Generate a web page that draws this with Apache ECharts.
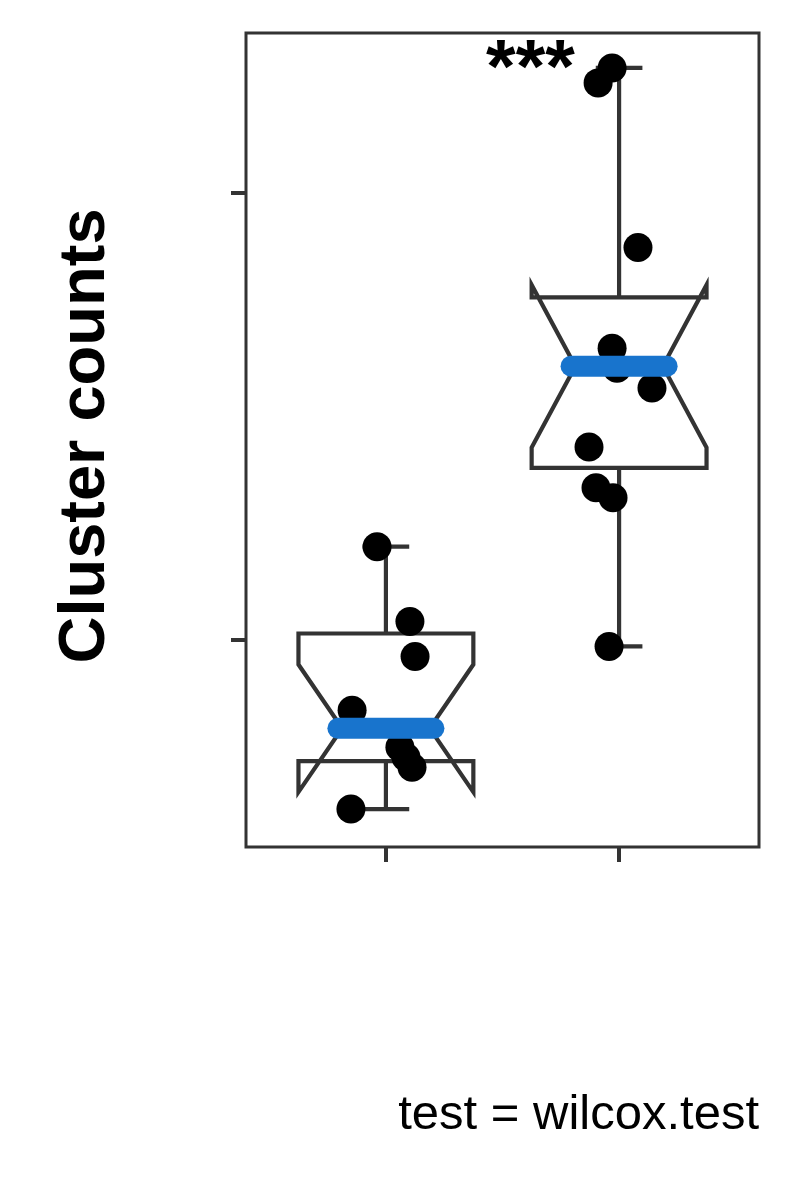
<!DOCTYPE html>
<html>
<head>
<meta charset="utf-8">
<script src="https://cdn.jsdelivr.net/npm/echarts@6/dist/echarts.min.js"></script>
<style>
  html, body { margin: 0; padding: 0; background: #ffffff; }
  #chart { width: 800px; height: 1200px; }
</style>
</head>
<body>
<div id="chart"></div>
<script>
// ---- data ----
const categories = ['Group 1', 'Group 2'];
const groupPos = [1, 2];
// box statistics: [min, Q1, median, Q3, max]
const boxStats = [
  [6.205, 7.277, 8.013, 10.134, 12.076],
  [9.844, 13.839, 16.116, 17.656, 22.790]
];
const groupCounts = [10, 11];
// jittered points
const g1X = [0.962, 1.103, 1.125, 0.855, 1.060, 1.086, 1.112, 0.850];
const g1Y = [12.076, 10.402, 9.621, 8.415, 7.589, 7.366, 7.143, 6.205];
const g2X = [1.970, 1.910, 2.081, 1.970, 1.991, 2.141, 1.871, 1.901, 1.974, 1.957];
const g2Y = [22.790, 22.455, 18.772, 16.518, 16.071, 15.625, 14.308, 13.393, 13.170, 9.844];
const yTicks = [10, 20];
const yRange = [5.357, 23.571];
const xRange = [0.4, 2.6];
const signifLabel = '***';
const signifPos = [1.62, 22.72];
const yTitle = 'Cluster counts';
const caption = 'test = wilcox.test';

const FONT = "'Liberation Sans', Arial, Helvetica, sans-serif";
const LINE = '#333333';

const boxData = categories.map((c, i) => [groupPos[i]].concat(boxStats[i]).concat([groupCounts[i]]));
const pts = [];
g1X.forEach((x, i) => pts.push([x, g1Y[i]]));
g2X.forEach((x, i) => pts.push([x, g2Y[i]]));

const HALF = 0.375, NOTCH = 0.1875, CAP = 0.1, MED = 0.206;
const LW = 4.2;

function renderBox(params, api) {
  const x = api.value(0), mn = api.value(1), q1 = api.value(2), md = api.value(3),
        q3 = api.value(4), mx = api.value(5), n = api.value(6);
  const d = 1.58 * (q3 - q1) / Math.sqrt(n);
  const nu = md + d, nl = md - d;
  const P = (a, b) => api.coord([a, b]);
  const st = { stroke: LINE, lineWidth: LW, fill: null };
  return {
    type: 'group',
    children: [
      { type: 'line', shape: { x1: P(x, q3)[0], y1: P(x, q3)[1], x2: P(x, mx)[0], y2: P(x, mx)[1] }, style: st },
      { type: 'line', shape: { x1: P(x, q1)[0], y1: P(x, q1)[1], x2: P(x, mn)[0], y2: P(x, mn)[1] }, style: st },
      { type: 'line', shape: { x1: P(x - CAP, mx)[0], y1: P(x, mx)[1], x2: P(x + CAP, mx)[0], y2: P(x, mx)[1] }, style: st },
      { type: 'line', shape: { x1: P(x - CAP, mn)[0], y1: P(x, mn)[1], x2: P(x + CAP, mn)[0], y2: P(x, mn)[1] }, style: st },
      { type: 'polygon', shape: { points: [
          P(x - HALF, q3), P(x - HALF, nu), P(x - NOTCH, md), P(x - HALF, nl), P(x - HALF, q1),
          P(x + HALF, q1), P(x + HALF, nl), P(x + NOTCH, md), P(x + HALF, nu), P(x + HALF, q3)
        ] },
        style: { stroke: LINE, lineWidth: LW, fill: 'rgba(255,255,255,0)', lineJoin: 'miter' } }
    ]
  };
}

function renderMedian(params, api) {
  const x = api.value(0), md = api.value(3);
  const a = api.coord([x - MED, md]), b = api.coord([x + MED, md]);
  return { type: 'line', shape: { x1: a[0], y1: a[1], x2: b[0], y2: b[1] },
           style: { stroke: '#1874CD', lineWidth: 21, lineCap: 'round' } };
}

const chart = echarts.init(document.getElementById('chart'), null, { renderer: 'canvas' });
chart.setOption({
  backgroundColor: '#ffffff',
  animation: false,
  grid: { left: 246, right: 41, top: 33, bottom: 353, show: true, borderColor: LINE, borderWidth: 3, backgroundColor: 'transparent' },
  xAxis: {
    type: 'value', min: xRange[0], max: xRange[1],
    axisLine: { show: false },
    axisTick: { show: true, customValues: groupPos, length: 15, lineStyle: { color: LINE, width: 4 } },
    axisLabel: { show: false },
    splitLine: { show: false }
  },
  yAxis: {
    type: 'value', min: yRange[0], max: yRange[1],
    axisLine: { show: false },
    axisTick: { show: true, customValues: yTicks, length: 15, lineStyle: { color: LINE, width: 4 } },
    axisLabel: { show: false },
    splitLine: { show: false }
  },
  series: [
    { type: 'custom', renderItem: renderBox, data: boxData, z: 2, silent: true },
    { type: 'scatter', data: pts, symbol: 'circle', symbolSize: 29, itemStyle: { color: '#000000', opacity: 1 }, z: 3, silent: true },
    { type: 'custom', renderItem: renderMedian, data: boxData, z: 4, silent: true },
    { type: 'scatter', data: [signifPos], symbolSize: 0, z: 5, silent: true, itemStyle: { opacity: 1 },
      label: { show: true, formatter: signifLabel, position: 'inside', color: '#000000', fontSize: 76, fontWeight: 'bold', fontFamily: FONT } }
  ],
  graphic: [
    { type: 'text', x: 86, y: 436, rotation: Math.PI / 2,
      style: { text: yTitle, fontSize: 65, fontWeight: 'bold', fontFamily: FONT, fill: '#000', align: 'center', verticalAlign: 'middle' } },
    { type: 'text', x: 759, y: 1115,
      style: { text: caption, fontSize: 49, fontFamily: FONT, fill: '#000', align: 'right', verticalAlign: 'middle' } }
  ]
});
</script>
</body>
</html>
